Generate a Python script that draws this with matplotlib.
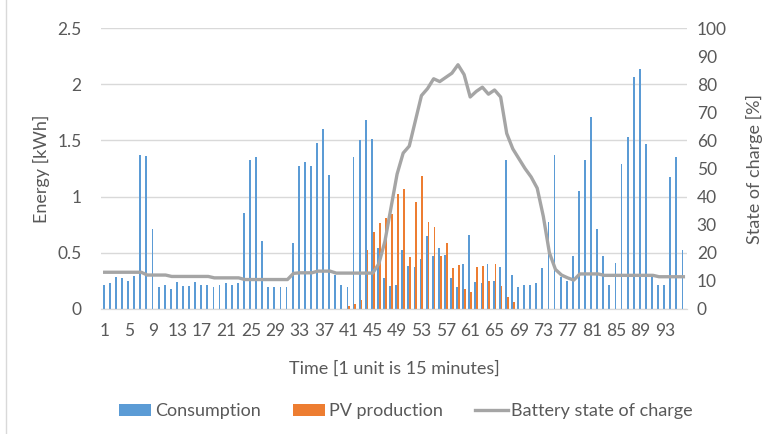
import numpy as np
import matplotlib
matplotlib.use('Agg')
import matplotlib.pyplot as plt
from matplotlib.lines import Line2D

# Values (96 quarter-hour units)
units = np.arange(1, 97)

consumption = [
    0.21, 0.23, 0.28, 0.27, 0.25, 0.29, 1.37, 1.36, 0.71, 0.19, 0.21, 0.18, 0.24, 0.20, 0.20, 0.24,
    0.21, 0.21, 0.19, 0.21, 0.23, 0.21, 0.23, 0.85, 1.33, 1.35, 0.60, 0.19, 0.19, 0.19, 0.19, 0.59,
    1.27, 1.31, 1.27, 1.48, 1.60, 1.19, 0.30, 0.21, 0.19, 1.35, 1.50, 1.68, 1.51, 0.54, 0.27, 0.20,
    0.21, 0.52, 0.38, 0.37, 0.44, 0.65, 0.47, 0.54, 0.48, 0.27, 0.19, 0.40, 0.66, 0.24, 0.23, 0.40,
    0.25, 0.37, 1.33, 0.30, 0.19, 0.21, 0.21, 0.23, 0.36, 0.77, 1.37, 0.28, 0.25, 0.47, 1.05, 1.33,
    1.71, 0.71, 0.47, 0.21, 0.41, 1.29, 1.53, 2.07, 2.14, 1.47, 0.28, 0.21, 0.21, 1.17, 1.35, 0.52,
]

pv_production = [0.0] * 40 + [
    0.02, 0.04, 0.08, 0.52, 0.68, 0.76, 0.81, 0.84,
    1.02, 1.07, 0.46, 0.95, 1.18, 0.77, 0.73, 0.47, 0.59, 0.36, 0.39, 0.18, 0.15, 0.37, 0.38, 0.25,
    0.40, 0.20, 0.10, 0.06,
] + [0.0] * 28

battery_soc = [
    13.0, 13.0, 13.0, 13.0, 13.0, 13.0, 13.0, 12.0, 12.0, 12.0, 12.0, 11.5, 11.5, 11.5, 11.5, 11.5,
    11.5, 11.5, 11.0, 11.0, 11.0, 11.0, 11.0, 10.4, 10.4, 10.4, 10.4, 10.4, 10.4, 10.4, 10.4, 12.6,
    12.8, 12.8, 12.8, 13.4, 13.4, 13.4, 12.7, 12.7, 12.7, 12.7, 12.7, 12.7, 12.7, 16.0, 24.0, 36.0,
    48.0, 55.5, 58.0, 67.0, 76.0, 78.5, 82.0, 81.0, 82.5, 84.0, 87.0, 83.5, 75.5, 77.5, 79.0, 76.5,
    78.0, 75.5, 62.5, 57.0, 53.5, 50.0, 47.0, 43.0, 33.0, 20.0, 14.0, 12.0, 11.0, 10.2, 12.4, 12.4,
    12.4, 12.4, 11.9, 11.9, 11.9, 11.9, 11.9, 11.9, 11.9, 11.9, 11.9, 11.4, 11.4, 11.4, 11.4, 11.4,
]

tick_units = list(range(1, 97, 4))

plt.rcParams['font.family'] = 'Lato'
text_color = '#595959'
grid_color = '#d9d9d9'

fig = plt.figure(figsize=(7.73, 4.34), dpi=100)
ax = fig.add_axes([0.1307, 0.2887, 0.7581, 0.6461])
ax2 = ax.twinx()

w = 0.3
ax.bar(units - w / 2, consumption, width=w, color='#5B9BD5', label='Consumption', zorder=2)
ax.bar(units + w / 2, pv_production, width=w, color='#ED7D31', label='PV production', zorder=2)
ax2.plot(units, battery_soc, color='#A5A5A5', linewidth=2.4, label='Battery state of charge',
         solid_joinstyle='round')

ax.set_xlim(0.4, 96.6)
ax.set_ylim(0, 2.5)
ax2.set_ylim(0, 100)
ax.set_yticks([0, 0.5, 1, 1.5, 2, 2.5])
ax.set_yticklabels(['0', '0.5', '1', '1.5', '2', '2.5'])
ax2.set_yticks(range(0, 101, 10))
ax.set_xticks(tick_units)
ax.set_xticklabels([str(t) for t in tick_units])

ax.grid(axis='y', color=grid_color, linewidth=1, zorder=0)
ax.set_axisbelow(True)
for a in (ax, ax2):
    for side in ('top', 'left', 'right'):
        a.spines[side].set_visible(False)
    a.spines['bottom'].set_color(grid_color)
    a.tick_params(length=0, colors=text_color, labelsize=12.5)
ax.tick_params(axis='x', pad=10)
ax.tick_params(axis='y', pad=14)
ax2.tick_params(axis='y', pad=7)

ax.set_ylabel('Energy [kWh]', color=text_color, fontsize=13, labelpad=5)
ax2.set_ylabel('State of charge [%]', color=text_color, fontsize=13, labelpad=14)
ax.set_xlabel('Time [1 unit is 15 minutes]', color=text_color, fontsize=13, labelpad=16)

handles = ax.get_legend_handles_labels()[0] + ax2.get_legend_handles_labels()[0]
labels = ['Consumption', 'PV production', 'Battery state of charge']
leg = fig.legend(handles, labels, loc='center', bbox_to_anchor=(0.525, 0.052), ncol=3,
                 frameon=False, fontsize=13, handlelength=1.8, handleheight=0.6,
                 columnspacing=1.8, handletextpad=0.2)
for t in leg.get_texts():
    t.set_color(text_color)

# thin chart-area border on the left edge, as in the original export
fig.add_artist(Line2D([0.008, 0.008], [0, 1], color=grid_color, linewidth=1))

fig.savefig('out.png', dpi=100)
